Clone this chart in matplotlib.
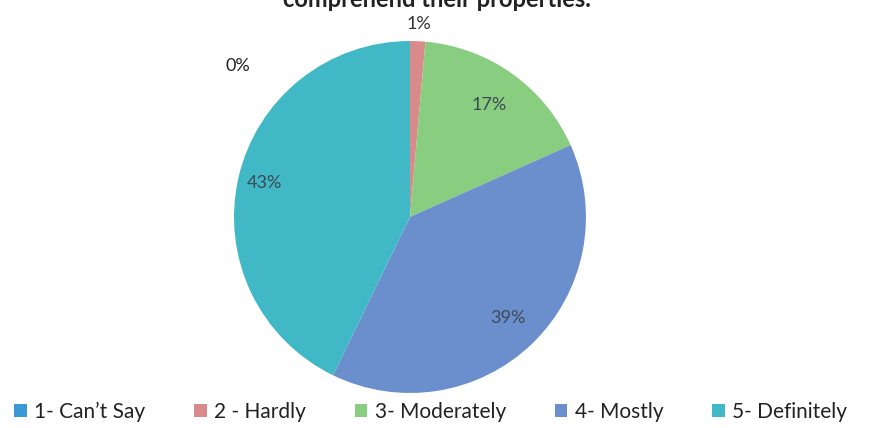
import numpy as np
import matplotlib.pyplot as plt
from matplotlib.patches import Patch

plt.rcParams['font.family'] = ['Lato', 'DejaVu Sans']

categories = ['1- Can\u2019t Say', '2 - Hardly', '3- Moderately', '4- Mostly', '5- Definitely']
shares = [0.0, 1.4, 16.9, 38.9, 42.8]
pct_labels = ['0%', '1%', '17%', '39%', '43%']
colors = ['#3a9ad6', '#d98a8a', '#88cd80', '#6b8fcd', '#40b8c5']

fig = plt.figure(figsize=(8.83, 4.28), dpi=100)
ax = fig.add_axes([0.265, 0.0818, 0.3986, 0.8224])

wedges, _ = ax.pie(shares, colors=colors, startangle=90, counterclock=False,
                   radius=1.0, wedgeprops=dict(linewidth=0))
ax.set_xlim(-1, 1)
ax.set_ylim(-1, 1)
ax.set_aspect('equal')
ax.axis('off')

# label placement: distance from centre as a fraction of radius
label_r = [None, 1.1, 0.78, 0.80, 0.85]
for w, lab, r in zip(wedges, pct_labels, label_r):
    if r is None:
        continue
    mid = np.deg2rad((w.theta1 + w.theta2) / 2)
    x, y = r * np.cos(mid), r * np.sin(mid)
    col = '#333333' if r > 1 else '#3d4a55'
    ax.text(x, y, lab, ha='center', va='center', fontsize=13, color=col)

# the 0% label was moved away from its (empty) slice
ax.text(-0.98, 0.86, pct_labels[0], ha='center', va='center', fontsize=13, color='#222222')

# title runs off the top edge in the original
fig.text(0.495, 0.984, 'comprehend their properties.', ha='center', va='baseline',
         fontsize=17, fontweight='bold', color='#222222')

handles = [Patch(facecolor=c, edgecolor='none') for c in colors]
fig.legend(handles, categories, loc='lower left', bbox_to_anchor=(-0.005, -0.03),
           ncol=5, frameon=False, fontsize=15, handlelength=0.6, handleheight=0.6,
           handletextpad=0.35, columnspacing=2.35, labelcolor='#222222')

fig.savefig('out.png', dpi=100)
